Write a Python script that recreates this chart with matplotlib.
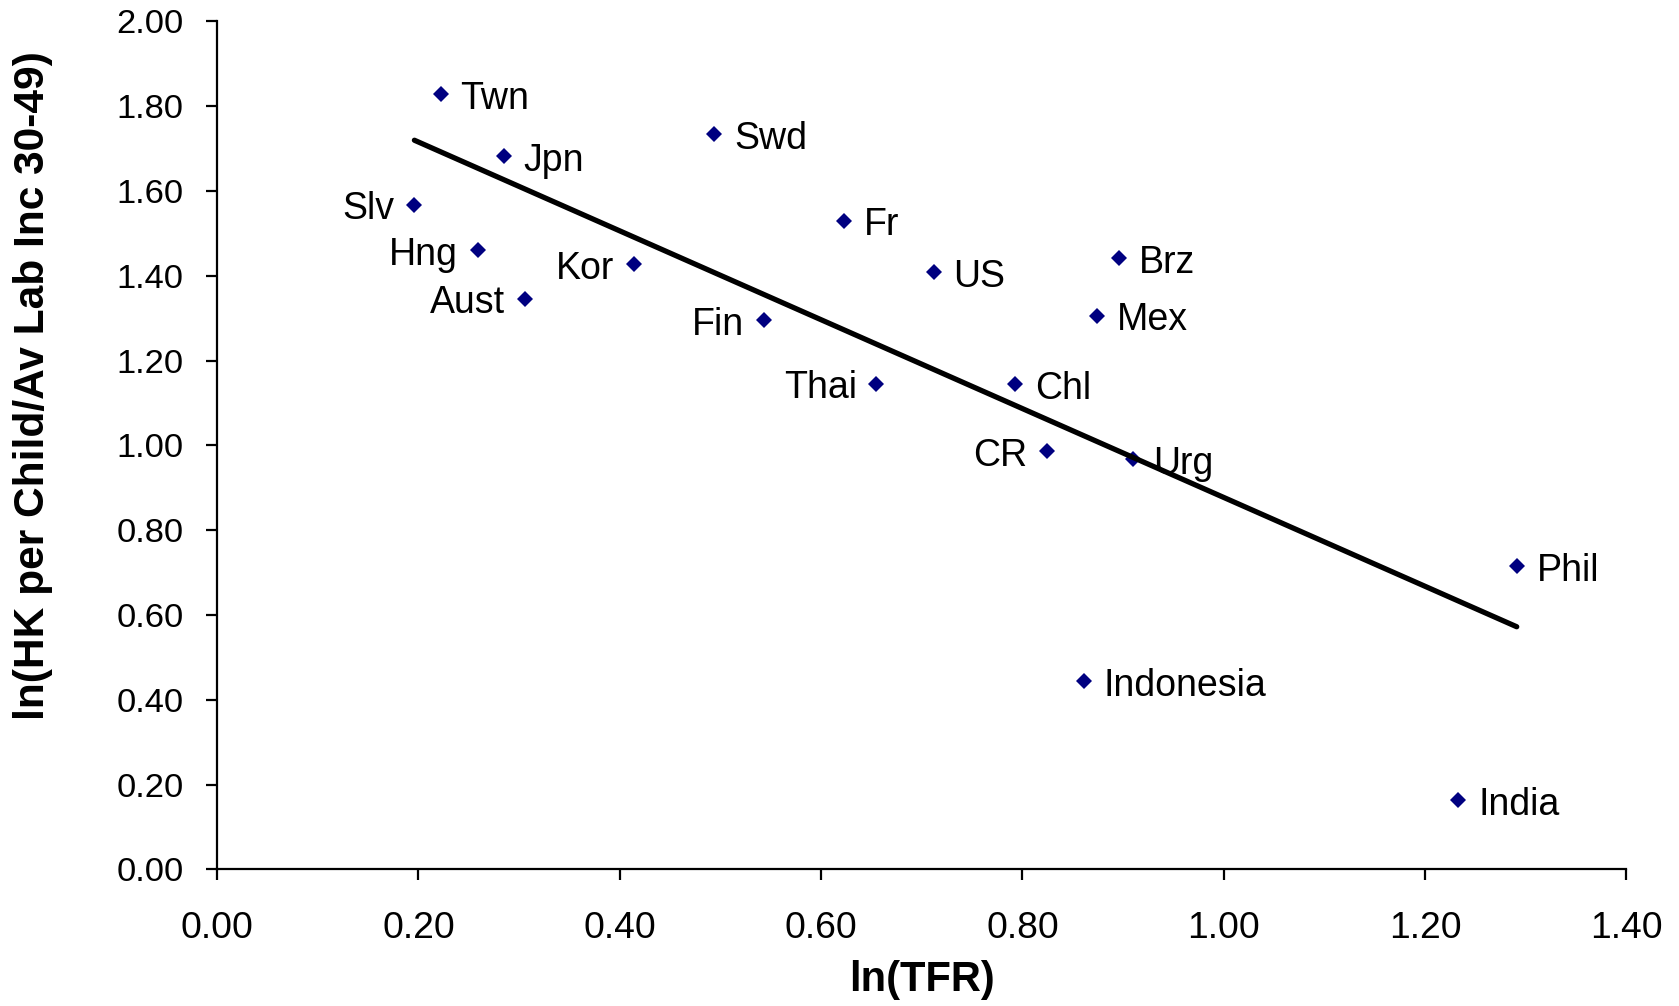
import numpy as np
import matplotlib
matplotlib.use("Agg")
import matplotlib.pyplot as plt

plt.rcParams["font.family"] = ["Liberation Sans", "DejaVu Sans"]

# Country codes and their coordinates
countries = ["Twn", "Jpn", "Slv", "Hng", "Aust", "Kor", "Swd", "Fin", "Fr", "Thai",
             "US", "Chl", "CR", "Brz", "Mex", "Urg", "Indonesia", "India", "Phil"]
ln_tfr = [0.222, 0.285, 0.196, 0.259, 0.306, 0.414, 0.494, 0.543, 0.623, 0.655,
          0.712, 0.793, 0.824, 0.896, 0.874, 0.910, 0.861, 1.233, 1.291]
ln_hk = [1.828, 1.682, 1.568, 1.460, 1.346, 1.427, 1.735, 1.295, 1.530, 1.146,
         1.409, 1.144, 0.987, 1.442, 1.306, 0.967, 0.444, 0.164, 0.715]
# Which side of the marker each label sits on
label_side = ["R", "R", "L", "L", "L", "L", "R", "L", "R", "L",
              "R", "R", "L", "R", "R", "R", "R", "R", "R"]

x_ticks = [0.0, 0.2, 0.4, 0.6, 0.8, 1.0, 1.2, 1.4]
y_ticks = [0.0, 0.2, 0.4, 0.6, 0.8, 1.0, 1.2, 1.4, 1.6, 1.8, 2.0]

fig = plt.figure(figsize=(16.79, 10.06), dpi=100)
ax = fig.add_axes([0.1293, 0.1357, 0.8394, 0.8430])

x = np.array(ln_tfr)
y = np.array(ln_hk)

ax.plot(x, y, linestyle="none", marker="D", markersize=8.2,
        markerfacecolor="#000080", markeredgewidth=0, zorder=3, clip_on=False)

# Linear trend across the observed range
slope, intercept = np.polyfit(x, y, 1)
xs = np.array([x.min(), x.max()])
ax.plot(xs, slope * xs + intercept, color="black", lw=3.8,
        solid_capstyle="round", zorder=4)

for name, xi, yi, side in zip(countries, ln_tfr, ln_hk, label_side):
    dx = 14.2 if side == "R" else -14.2
    ax.annotate(name, (xi, yi), xytext=(dx, -10.6), textcoords="offset points",
                ha="left" if side == "R" else "right", va="baseline",
                fontsize=27, color="black", zorder=3)

ax.set_xlim(0, 1.4)
ax.set_ylim(0, 2.0)
ax.set_xticks(x_ticks)
ax.set_yticks(y_ticks)
ax.set_xticklabels([f"{t:.2f}" for t in x_ticks])
ax.set_yticklabels([f"{t:.2f}" for t in y_ticks])

for side in ["top", "right"]:
    ax.spines[side].set_visible(False)
for side in ["left", "bottom"]:
    ax.spines[side].set_linewidth(1.6)

ax.tick_params(axis="both", direction="out", length=7.6, width=1.6,
               colors="black")
ax.tick_params(axis="y", pad=16.5, labelsize=24.8)
ax.tick_params(axis="x", pad=22, labelsize=26.8)

fig.text(922 / 1679, 1 - 980 / 1006, "ln(TFR)", ha="center", va="center",
         fontsize=30, fontweight="bold")
fig.text(33 / 1679, 1 - 385.5 / 1006, "ln(HK per Child/Av Lab Inc 30-49)",
         ha="center", va="center", rotation=90, fontsize=30.6, fontweight="bold")

fig.savefig("out.png", dpi=100, facecolor="white")
